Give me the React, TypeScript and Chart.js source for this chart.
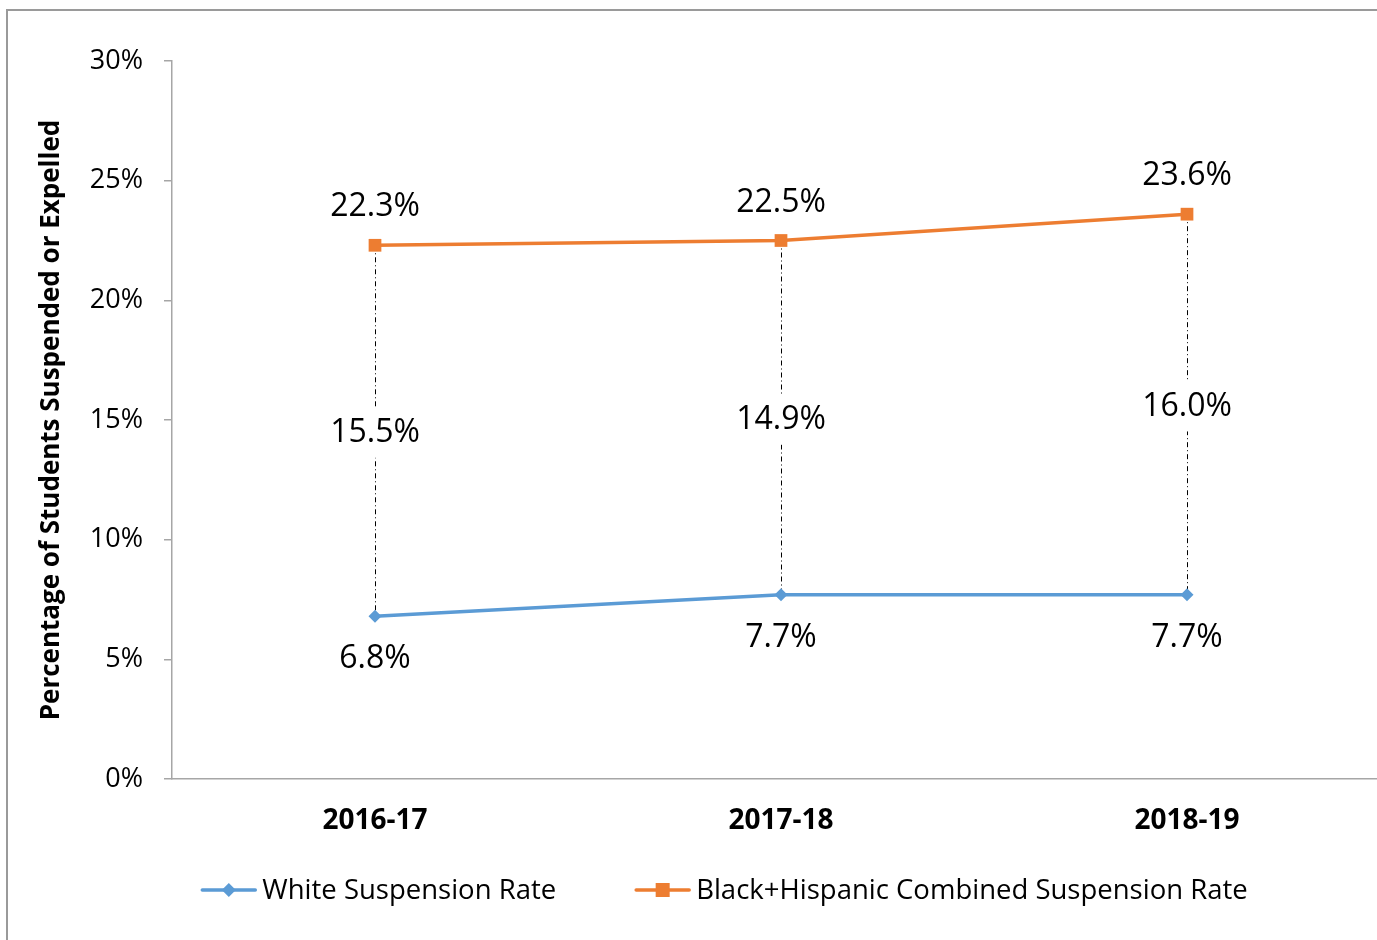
import React, { useEffect, useRef } from "react";
import { Chart, registerables } from "chart.js";

Chart.register(...registerables);

// School years on the category axis
const categories = ["2016-17", "2017-18", "2018-19"];
// Share of students suspended or expelled, in percent
const whiteRate = [6.8, 7.7, 7.7];
const blackHispanicRate = [22.3, 22.5, 23.6];
// Gap between the two rates, as published
const gapLabels = [15.5, 14.9, 16.0];
// Value axis ticks
const yTicks = [0, 5, 10, 15, 20, 25, 30];

const seriesNames = ["White Suspension Rate", "Black+Hispanic Combined Suspension Rate"];
const BLUE = "#5B9BD5";
const ORANGE = "#ED7D31";
const AXIS = "#A6A6A6";
const FONT = "'Open Sans', 'Noto Sans', sans-serif";

const fmt = (v: number) => v.toFixed(1) + "%";

// Dash-dot drop lines between the two series, with the gap value in the middle
const dropLines = {
  id: "dropLines",
  beforeDatasetsDraw(chart: any) {
    const ctx = chart.ctx;
    const top = chart.getDatasetMeta(1).data;
    const bottom = chart.getDatasetMeta(0).data;
    ctx.save();
    ctx.strokeStyle = "#000";
    ctx.lineWidth = 1;
    ctx.setLineDash([5, 3, 1, 3]);
    top.forEach((p: any, i: number) => {
      const q = bottom[i];
      ctx.beginPath();
      ctx.moveTo(Math.round(p.x) + 0.5, p.y);
      ctx.lineTo(Math.round(q.x) + 0.5, q.y);
      ctx.stroke();
    });
    ctx.setLineDash([]);
    ctx.font = `32px ${FONT}`;
    ctx.textAlign = "center";
    ctx.textBaseline = "middle";
    top.forEach((p: any, i: number) => {
      const q = bottom[i];
      const y = (p.y + q.y) / 2 + 2;
      const text = fmt(gapLabels[i]);
      const w = ctx.measureText(text).width + 8;
      ctx.fillStyle = "#fff";
      ctx.fillRect(p.x - w / 2, y - 25, w, 50);
      ctx.fillStyle = "#000";
      ctx.fillText(text, p.x, y);
    });
    ctx.restore();
  },
};

// Value labels: above the upper series, below the lower one
const valueLabels = {
  id: "valueLabels",
  afterDatasetsDraw(chart: any) {
    const ctx = chart.ctx;
    ctx.save();
    ctx.font = `32px ${FONT}`;
    ctx.textAlign = "center";
    ctx.textBaseline = "middle";
    ctx.fillStyle = "#000";
    chart.getDatasetMeta(1).data.forEach((p: any, i: number) => {
      ctx.fillText(fmt(blackHispanicRate[i]), p.x, p.y - 38);
    });
    chart.getDatasetMeta(0).data.forEach((p: any, i: number) => {
      ctx.fillText(fmt(whiteRate[i]), p.x, p.y + 43);
    });
    ctx.restore();
  },
};

// Legend: short line with the series marker, followed by the name
const lineLegend = {
  id: "lineLegend",
  afterDraw(chart: any) {
    const ctx = chart.ctx;
    const sample = 53;
    const textGap = 7;
    const itemGap = 80;
    const cy = 879;
    const cx = 717;
    ctx.save();
    ctx.font = `27.5px ${FONT}`;
    const widths = seriesNames.map((n) => ctx.measureText(n).width);
    const total =
      widths.reduce((a, b) => a + b, 0) + seriesNames.length * (sample + textGap) + itemGap * (seriesNames.length - 1);
    let x = cx - total / 2;
    const colors = [BLUE, ORANGE];
    seriesNames.forEach((name, i) => {
      ctx.strokeStyle = colors[i];
      ctx.lineWidth = 3.5;
      ctx.lineCap = "round";
      ctx.beginPath();
      ctx.moveTo(x, cy);
      ctx.lineTo(x + sample, cy);
      ctx.stroke();
      ctx.fillStyle = colors[i];
      const mx = x + sample / 2;
      ctx.beginPath();
      if (i === 0) {
        ctx.moveTo(mx, cy - 7);
        ctx.lineTo(mx + 7, cy);
        ctx.lineTo(mx, cy + 7);
        ctx.lineTo(mx - 7, cy);
        ctx.closePath();
      } else {
        ctx.rect(mx - 7, cy - 7, 14, 14);
      }
      ctx.fill();
      ctx.fillStyle = "#000";
      ctx.textAlign = "left";
      ctx.textBaseline = "middle";
      ctx.fillText(name, x + sample + textGap, cy + 1);
      x += sample + textGap + widths[i] + itemGap;
    });
    ctx.restore();
  },
};

function SuspensionChart() {
  const ref = useRef<HTMLCanvasElement | null>(null);

  useEffect(() => {
    if (!ref.current) return;
    const chart = new Chart(ref.current, {
      type: "line",
      data: {
        labels: categories,
        datasets: [
          {
            label: seriesNames[0],
            data: whiteRate,
            borderColor: BLUE,
            backgroundColor: BLUE,
            borderWidth: 3.5,
            pointStyle: "rectRot",
            pointRadius: 6.5,
            pointBorderWidth: 0,
            tension: 0,
          },
          {
            label: seriesNames[1],
            data: blackHispanicRate,
            borderColor: ORANGE,
            backgroundColor: ORANGE,
            borderWidth: 3.5,
            pointStyle: "rect",
            pointRadius: 9,
            pointBorderWidth: 0,
            tension: 0,
          },
        ],
      },
      options: {
        responsive: false,
        animation: false,
        layout: { padding: { left: 0, top: 50, right: 18, bottom: 0 } },
        plugins: {
          legend: { display: false },
          tooltip: { enabled: false },
        },
        scales: {
          x: {
            type: "category",
            offset: true,
            grid: { display: false, drawTicks: false },
            border: { display: true, color: AXIS, width: 1.5 },
            ticks: {
              padding: 25,
              color: "#000",
              font: { family: FONT, size: 28, weight: "bold" },
            },
            afterFit(scale: any) {
              scale.height = 161;
            },
          },
          y: {
            min: 0,
            max: 30,
            afterBuildTicks(scale: any) {
              scale.ticks = yTicks.map((v) => ({ value: v }));
            },
            grid: {
              display: true,
              drawOnChartArea: false,
              drawTicks: true,
              tickLength: 8,
              color: AXIS,
              lineWidth: 1.5,
            },
            border: { display: true, color: AXIS, width: 1.5 },
            ticks: {
              padding: 21,
              color: "#000",
              font: { family: FONT, size: 27 },
              callback: (v: any) => v + "%",
            },
            title: {
              display: true,
              text: "Percentage of Students Suspended or Expelled",
              color: "#000",
              font: { family: FONT, size: 26, weight: "bold" },
              padding: { top: 28, bottom: 0 },
            },
            afterFit(scale: any) {
              scale.width = 164;
            },
          },
        },
      },
      plugins: [dropLines, valueLabels, lineLegend],
    });
    return () => chart.destroy();
  }, []);

  return <canvas ref={ref} width={1400} height={929} style={{ display: "block" }} />;
}

export default function App() {
  return (
    <div style={{ position: "fixed", inset: 0, overflow: "hidden", background: "#fff" }}>
      <div
        style={{
          position: "absolute",
          left: 6,
          top: 9,
          width: 1420,
          height: 960,
          borderLeft: "2px solid #9a9a9a",
          borderTop: "2px solid #9a9a9a",
        }}
      >
        <SuspensionChart />
      </div>
    </div>
  );
}
